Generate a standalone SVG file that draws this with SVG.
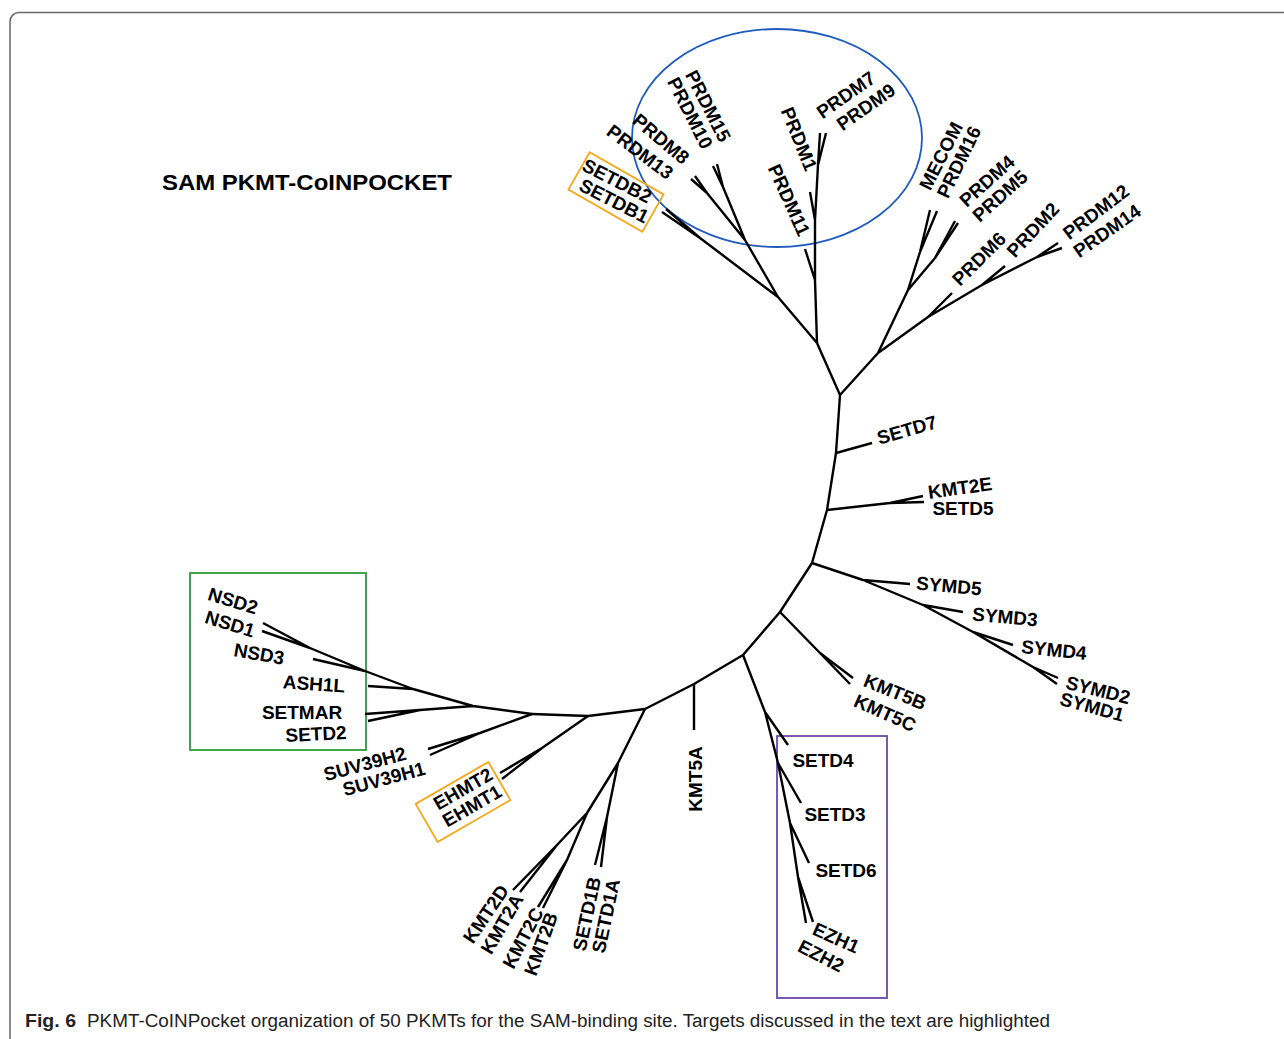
<svg xmlns="http://www.w3.org/2000/svg" width="1284" height="1039" viewBox="0 0 1284 1039">
<style>
.br{fill:none;stroke:#000;stroke-width:2.4;stroke-linejoin:round;stroke-linecap:butt}
.lb{font-family:"Liberation Sans",Arial,sans-serif;font-weight:bold;font-size:19px;fill:#000;text-anchor:middle;dominant-baseline:central}
.hl{fill:none;stroke-width:1.8}
</style>
<rect x="10" y="12.5" width="1300" height="1036" rx="9" fill="#fff" stroke="#666" stroke-width="1.5"/>
<text x="162" y="190" font-family="Liberation Sans,Arial,sans-serif" font-weight="bold" font-size="22" textLength="290" lengthAdjust="spacingAndGlyphs">SAM PKMT-CoINPOCKET</text>
<g id="highlights">
<ellipse id="prdm-ellipse" cx="777" cy="138" rx="145" ry="109" class="hl" stroke="#1f5bbf"/>
<rect id="nsd-box" x="190" y="573" width="176" height="177" class="hl" stroke="#2a9d3a"/>
<rect id="ezh-box" x="777" y="736" width="110" height="262" class="hl" stroke="#6a48a8"/>
<rect id="setdb-box" x="-42.5" y="-21.5" width="85" height="43" class="hl" stroke="#f5a81c" transform="translate(616,192) rotate(29.6)"/>
<rect id="ehmt-box" x="-42" y="-22" width="84" height="44" class="hl" stroke="#f5a81c" transform="translate(463,802) rotate(-30)"/>
</g>
<g id="connectors" class="br">
<path class="br" d="M840,395 L836,453 L827,510 L812,563 L780,612 L743,655 L694,684 L645,709 L588,716 L532,714"/>
<path class="br" d="M840,395 L817,343 M840,395 L878,353"/>
<path class="br" d="M817,343 L815,280 L815,220 L818,165 L820,133 M818,165 L826,133 M815,220 L810,192 M815,280 L805,249"/>
<path class="br" d="M817,343 L778,297 L745,240 L707,193 L691,179 M707,193 L695,176 M745,240 L723,187 L713,166 M723,187 L717,164 M778,297 L700,238 L662,212 M700,238 L666,209"/>
<path class="br" d="M878,353 L908,290 L920,252 L930,210 M920,252 L937,211 M908,290 L935,258 L955,221 M935,258 L958,223"/>
<path class="br" d="M878,353 L928,317 L982,285 L1037,257 L1058,243 M1037,257 L1062,248 M928,317 L952,293 M982,285 L1005,266"/>
<path class="br" d="M836,453 L872,443"/>
<path class="br" d="M827,510 L890,503 L923,496 M890,503 L924,502"/>
<path class="br" d="M812,563 L863,580 L923,605 L973,632 L1033,667 L1058,678 M1033,667 L1057,684 M863,580 L910,584 M923,605 L963,612 M973,632 L1013,645"/>
<path class="br" d="M780,612 L820,653 L853,678 M820,653 L850,684"/>
<path class="br" d="M743,655 L765,712 L778,763 L790,823 L798,877 L806,923 M798,877 L813,922 M765,712 L788,745 M778,763 L801,803 M790,823 L809,863"/>
<path class="br" d="M694,684 L694,730"/>
<path class="br" d="M645,709 L618,763 L587,813 L557,845 L513,890 M557,845 L520,892 M587,813 L567,860 L538,907 M567,860 L543,908 M618,763 L607,817 L595,865 M607,817 L601,867"/>
<path class="br" d="M588,716 L542,748 L500,773 M542,748 L502,779"/>
<path class="br" d="M532,714 L480,733 L428,749 M480,733 L430,755"/>
<path class="br" d="M532,714 L473,706 L420,710 L365,714 M420,710 L368,721 M473,706 L413,689 L368,686 M413,689 L365,671 L313,659 M365,671 L310,648 L263,623 M310,648 L262,631"/>
</g>
<g id="leaves">
<g id="n-PRDM7"><text class="lb" transform="translate(846,95) rotate(-35)">PRDM7</text></g>
<g id="n-PRDM9"><text class="lb" transform="translate(866,107) rotate(-35)">PRDM9</text></g>
<g id="n-PRDM1"><text class="lb" transform="translate(799,139) rotate(68)">PRDM1</text></g>
<g id="n-PRDM11"><text class="lb" transform="translate(789,200) rotate(66)">PRDM11</text></g>
<g id="n-PRDM15"><text class="lb" transform="translate(708,106) rotate(63)">PRDM15</text></g>
<g id="n-PRDM10"><text class="lb" transform="translate(690,113) rotate(63)">PRDM10</text></g>
<g id="n-PRDM8"><text class="lb" transform="translate(661,139) rotate(40)">PRDM8</text></g>
<g id="n-PRDM13"><text class="lb" transform="translate(640,152) rotate(37)">PRDM13</text></g>
<g id="n-SETDB2"><text class="lb" transform="translate(617,181) rotate(27)">SETDB2</text></g>
<g id="n-SETDB1"><text class="lb" transform="translate(614,201) rotate(27)">SETDB1</text></g>
<g id="n-MECOM"><text class="lb" transform="translate(941,156) rotate(-63)">MECOM</text></g>
<g id="n-PRDM16"><text class="lb" transform="translate(959,162) rotate(-64)">PRDM16</text></g>
<g id="n-PRDM4"><text class="lb" transform="translate(987,181) rotate(-42)">PRDM4</text></g>
<g id="n-PRDM5"><text class="lb" transform="translate(1000,196) rotate(-42)">PRDM5</text></g>
<g id="n-PRDM6"><text class="lb" transform="translate(979,259) rotate(-45)">PRDM6</text></g>
<g id="n-PRDM2"><text class="lb" transform="translate(1033,230) rotate(-47)">PRDM2</text></g>
<g id="n-PRDM12"><text class="lb" transform="translate(1096,212) rotate(-37)">PRDM12</text></g>
<g id="n-PRDM14"><text class="lb" transform="translate(1107,231) rotate(-35)">PRDM14</text></g>
<g id="n-SETD7"><text class="lb" transform="translate(907,430) rotate(-16)">SETD7</text></g>
<g id="n-KMT2E"><text class="lb" transform="translate(960,488) rotate(-8)">KMT2E</text></g>
<g id="n-SETD5"><text class="lb" transform="translate(963,508)">SETD5</text></g>
<g id="n-SYMD5"><text class="lb" transform="translate(949,586) rotate(5)">SYMD5</text></g>
<g id="n-SYMD3"><text class="lb" transform="translate(1005,617) rotate(5)">SYMD3</text></g>
<g id="n-SYMD4"><text class="lb" transform="translate(1054,650) rotate(6)">SYMD4</text></g>
<g id="n-SYMD2"><text class="lb" transform="translate(1098,690) rotate(14)">SYMD2</text></g>
<g id="n-SYMD1"><text class="lb" transform="translate(1092,707) rotate(15)">SYMD1</text></g>
<g id="n-KMT5B"><text class="lb" transform="translate(895,692) rotate(22)">KMT5B</text></g>
<g id="n-KMT5C"><text class="lb" transform="translate(885,713) rotate(24)">KMT5C</text></g>
<g id="n-SETD4"><text class="lb" transform="translate(823,760)">SETD4</text></g>
<g id="n-SETD3"><text class="lb" transform="translate(835,814)">SETD3</text></g>
<g id="n-SETD6"><text class="lb" transform="translate(846,870)">SETD6</text></g>
<g id="n-EZH1"><text class="lb" transform="translate(836,938) rotate(24)">EZH1</text></g>
<g id="n-EZH2"><text class="lb" transform="translate(821,956) rotate(27)">EZH2</text></g>
<g id="n-KMT5A"><text class="lb" transform="translate(695,779) rotate(-90)">KMT5A</text></g>
<g id="n-KMT2D"><text class="lb" transform="translate(486,914) rotate(-56)">KMT2D</text></g>
<g id="n-KMT2A"><text class="lb" transform="translate(502,924) rotate(-60)">KMT2A</text></g>
<g id="n-KMT2C"><text class="lb" transform="translate(523,938) rotate(-62)">KMT2C</text></g>
<g id="n-KMT2B"><text class="lb" transform="translate(541,944) rotate(-70)">KMT2B</text></g>
<g id="n-SETD1B"><text class="lb" transform="translate(587,914) rotate(-78)">SETD1B</text></g>
<g id="n-SETD1A"><text class="lb" transform="translate(606,916) rotate(-78)">SETD1A</text></g>
<g id="n-EHMT2"><text class="lb" transform="translate(463,789) rotate(-30)">EHMT2</text></g>
<g id="n-EHMT1"><text class="lb" transform="translate(472,806) rotate(-30)">EHMT1</text></g>
<g id="n-SUV39H2"><text class="lb" transform="translate(365,764) rotate(-15)">SUV39H2</text></g>
<g id="n-SUV39H1"><text class="lb" transform="translate(384,779) rotate(-15)">SUV39H1</text></g>
<g id="n-SETD2"><text class="lb" transform="translate(316,734) rotate(-3)">SETD2</text></g>
<g id="n-SETMAR"><text class="lb" transform="translate(302,712)">SETMAR</text></g>
<g id="n-ASH1L"><text class="lb" transform="translate(314,684) rotate(4)">ASH1L</text></g>
<g id="n-NSD3"><text class="lb" transform="translate(259,654) rotate(10)">NSD3</text></g>
<g id="n-NSD1"><text class="lb" transform="translate(230,624) rotate(17)">NSD1</text></g>
<g id="n-NSD2"><text class="lb" transform="translate(233,601) rotate(17)">NSD2</text></g>
</g>
<g id="caption" font-family="Liberation Sans,Arial,sans-serif" font-size="18" fill="#222">
<text x="25" y="1027" font-weight="bold" textLength="51" lengthAdjust="spacingAndGlyphs">Fig. 6</text>
<text x="87" y="1027" textLength="963" lengthAdjust="spacingAndGlyphs">PKMT-CoINPocket organization of 50 PKMTs for the SAM-binding site. Targets discussed in the text are highlighted</text>
</g>
</svg>
